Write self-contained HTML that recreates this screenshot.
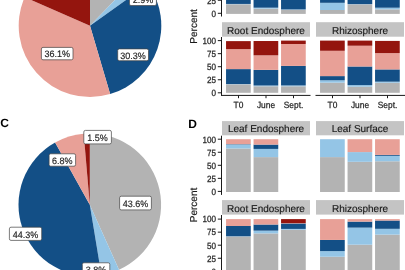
<!DOCTYPE html>
<html><head><meta charset="utf-8"><style>
html,body{margin:0;padding:0;background:#fff;}
body{width:405px;height:270px;overflow:hidden;}
svg{display:block;font-family:"Liberation Sans", sans-serif;will-change:transform;text-rendering:geometricPrecision;}
</style></head><body>
<svg width="405" height="270" viewBox="0 0 405 270">
<path d="M90,25.7L90,-45.6A71.3,71.3 0 0 1 139.62,-25.5Z" fill="#b3b3b3"/>
<path d="M90,25.7L139.62,-25.5A71.3,71.3 0 0 1 148.05,-15.7Z" fill="#94c5e6"/>
<path d="M90,25.7L148.05,-15.7A71.3,71.3 0 0 1 110.13,94.1Z" fill="#134f86"/>
<path d="M90,25.7L110.13,94.1A71.3,71.3 0 0 1 24.66,-2.84Z" fill="#e8a097"/>
<path d="M90,25.7L24.66,-2.84A71.3,71.3 0 0 1 90,-45.6Z" fill="#94150e"/>
<rect x="129.45" y="-7.4" width="26.95" height="12.95" rx="1.6" fill="#fff" stroke="#444" stroke-width="0.7"/>
<text transform="translate(142.93,2.78) scale(0.97,1)" font-size="9.3" text-anchor="middle" fill="#262626" stroke="#262626" stroke-width="0.18">2.9%</text>
<rect x="117.7" y="48.9" width="30.8" height="11.8" rx="1.6" fill="#fff" stroke="#444" stroke-width="0.7"/>
<text transform="translate(133.1,58.5) scale(0.97,1)" font-size="9.3" text-anchor="middle" fill="#262626" stroke="#262626" stroke-width="0.18">30.3%</text>
<rect x="41.4" y="47.4" width="31.6" height="12.4" rx="1.6" fill="#fff" stroke="#444" stroke-width="0.7"/>
<text transform="translate(57.2,57.3) scale(0.97,1)" font-size="9.3" text-anchor="middle" fill="#262626" stroke="#262626" stroke-width="0.18">36.1%</text>
<path d="M89.8,204.8L89.8,133.5A71.3,71.3 0 0 1 119.03,269.83Z" fill="#b3b3b3"/>
<path d="M89.8,204.8L119.03,269.83A71.3,71.3 0 0 1 101.45,275.14Z" fill="#94c5e6"/>
<path d="M89.8,204.8L101.45,275.14A71.3,71.3 0 0 1 55.12,142.5Z" fill="#134f86"/>
<path d="M89.8,204.8L55.12,142.5A71.3,71.3 0 0 1 83.71,133.76Z" fill="#e8a097"/>
<path d="M89.8,204.8L83.71,133.76A71.3,71.3 0 0 1 89.8,133.5Z" fill="#94150e"/>
<rect x="83.8" y="130.4" width="27.6" height="13.5" rx="1.6" fill="#fff" stroke="#444" stroke-width="0.7"/>
<text transform="translate(97.6,140.85) scale(0.97,1)" font-size="9.3" text-anchor="middle" fill="#262626" stroke="#262626" stroke-width="0.18">1.5%</text>
<rect x="49.1" y="153.8" width="26.5" height="12.4" rx="1.6" fill="#fff" stroke="#444" stroke-width="0.7"/>
<text transform="translate(62.35,163.7) scale(0.97,1)" font-size="9.3" text-anchor="middle" fill="#262626" stroke="#262626" stroke-width="0.18">6.8%</text>
<rect x="119.6" y="196.2" width="31.8" height="13.7" rx="1.6" fill="#fff" stroke="#444" stroke-width="0.7"/>
<text transform="translate(135.5,206.75) scale(0.97,1)" font-size="9.3" text-anchor="middle" fill="#262626" stroke="#262626" stroke-width="0.18">43.6%</text>
<rect x="9.4" y="227.2" width="32.3" height="13.2" rx="1.6" fill="#fff" stroke="#444" stroke-width="0.7"/>
<text transform="translate(25.55,237.5) scale(0.97,1)" font-size="9.3" text-anchor="middle" fill="#262626" stroke="#262626" stroke-width="0.18">44.3%</text>
<rect x="82.3" y="262.8" width="27.5" height="13.1" rx="1.6" fill="#fff" stroke="#444" stroke-width="0.7"/>
<text transform="translate(96.05,273.05) scale(0.97,1)" font-size="9.3" text-anchor="middle" fill="#262626" stroke="#262626" stroke-width="0.18">3.8%</text>
<text x="0.3" y="127.4" font-size="12" font-weight="bold" fill="#000">C</text>
<text x="188.2" y="127.8" font-size="12" font-weight="bold" fill="#000">D</text>
<rect x="226.05" y="4.25" width="24.7" height="9.65" fill="#b3b3b3"/>
<rect x="226.05" y="3.93" width="24.7" height="0.31" fill="#94c5e6"/>
<rect x="226.05" y="-38.4" width="24.7" height="42.33" fill="#134f86"/>
<rect x="253.55" y="8.68" width="24.7" height="5.22" fill="#b3b3b3"/>
<rect x="253.55" y="7.69" width="24.7" height="0.99" fill="#94c5e6"/>
<rect x="253.55" y="-38.4" width="24.7" height="46.09" fill="#134f86"/>
<rect x="281.05" y="9.89" width="24.7" height="4.01" fill="#b3b3b3"/>
<rect x="281.05" y="9.42" width="24.7" height="0.47" fill="#94c5e6"/>
<rect x="281.05" y="-38.4" width="24.7" height="47.82" fill="#134f86"/>
<rect x="320.05" y="10.01" width="24.7" height="3.89" fill="#b3b3b3"/>
<rect x="320.05" y="2.81" width="24.7" height="7.2" fill="#94c5e6"/>
<rect x="320.05" y="-38.9" width="24.7" height="41.71" fill="#134f86"/>
<rect x="347.55" y="4.32" width="24.7" height="9.58" fill="#b3b3b3"/>
<rect x="347.55" y="4.11" width="24.7" height="0.21" fill="#94c5e6"/>
<rect x="347.55" y="-38.9" width="24.7" height="43.01" fill="#134f86"/>
<rect x="375.05" y="9.39" width="24.7" height="4.51" fill="#b3b3b3"/>
<rect x="375.05" y="7.71" width="24.7" height="1.67" fill="#94c5e6"/>
<rect x="375.05" y="-38.9" width="24.7" height="46.61" fill="#134f86"/>
<rect x="221" y="-60" width="1" height="76.5" fill="#1a1a1a"/>
<rect x="217.8" y="12.8" width="3.4" height="1" fill="#1a1a1a"/>
<text transform="translate(216,16.6) scale(0.9,1)" font-size="9" text-anchor="end" fill="#262626" stroke="#262626" stroke-width="0.25">0</text>
<rect x="217.8" y="-0.25" width="3.4" height="1" fill="#1a1a1a"/>
<text transform="translate(216,3.55) scale(0.9,1)" font-size="9" text-anchor="end" fill="#262626" stroke="#262626" stroke-width="0.25">25</text>
<rect x="222" y="22.2" width="88" height="14.5" fill="#c4c4c4"/>
<text transform="translate(266,33.65) scale(1.0,1)" font-size="10" text-anchor="middle" fill="#1a1a1a" stroke="#1a1a1a" stroke-width="0.15">Root Endosphere</text>
<rect x="316" y="22.2" width="88" height="14.5" fill="#c4c4c4"/>
<text transform="translate(360,33.65) scale(1.0,1)" font-size="10" text-anchor="middle" fill="#1a1a1a" stroke="#1a1a1a" stroke-width="0.15">Rhizosphere</text>
<rect x="226.05" y="84.29" width="24.7" height="8.51" fill="#b3b3b3"/>
<rect x="226.05" y="84.03" width="24.7" height="0.26" fill="#94c5e6"/>
<rect x="226.05" y="69.1" width="24.7" height="14.93" fill="#134f86"/>
<rect x="226.05" y="49.11" width="24.7" height="19.99" fill="#e8a097"/>
<rect x="226.05" y="41.12" width="24.7" height="7.99" fill="#94150e"/>
<rect x="253.55" y="86.27" width="24.7" height="6.53" fill="#b3b3b3"/>
<rect x="253.55" y="85.49" width="24.7" height="0.78" fill="#94c5e6"/>
<rect x="253.55" y="69.88" width="24.7" height="15.61" fill="#134f86"/>
<rect x="253.55" y="55.32" width="24.7" height="14.56" fill="#e8a097"/>
<rect x="253.55" y="41.02" width="24.7" height="14.3" fill="#94150e"/>
<rect x="281.05" y="86.27" width="24.7" height="6.53" fill="#b3b3b3"/>
<rect x="281.05" y="85.44" width="24.7" height="0.84" fill="#94c5e6"/>
<rect x="281.05" y="65.92" width="24.7" height="19.52" fill="#134f86"/>
<rect x="281.05" y="43.99" width="24.7" height="21.92" fill="#e8a097"/>
<rect x="281.05" y="40.6" width="24.7" height="3.39" fill="#94150e"/>
<rect x="320.05" y="82.67" width="24.7" height="10.13" fill="#b3b3b3"/>
<rect x="320.05" y="80.27" width="24.7" height="2.4" fill="#94c5e6"/>
<rect x="320.05" y="76.1" width="24.7" height="4.18" fill="#134f86"/>
<rect x="320.05" y="50.78" width="24.7" height="25.32" fill="#e8a097"/>
<rect x="320.05" y="40.6" width="24.7" height="10.18" fill="#94150e"/>
<rect x="347.55" y="86.69" width="24.7" height="6.11" fill="#b3b3b3"/>
<rect x="347.55" y="85.07" width="24.7" height="1.62" fill="#94c5e6"/>
<rect x="347.55" y="66.49" width="24.7" height="18.58" fill="#134f86"/>
<rect x="347.55" y="45.72" width="24.7" height="20.78" fill="#e8a097"/>
<rect x="347.55" y="40.6" width="24.7" height="5.12" fill="#94150e"/>
<rect x="375.05" y="82.78" width="24.7" height="10.02" fill="#b3b3b3"/>
<rect x="375.05" y="81.68" width="24.7" height="1.1" fill="#94c5e6"/>
<rect x="375.05" y="69.41" width="24.7" height="12.27" fill="#134f86"/>
<rect x="375.05" y="53.13" width="24.7" height="16.29" fill="#e8a097"/>
<rect x="375.05" y="40.91" width="24.7" height="12.21" fill="#94150e"/>
<rect x="221" y="37" width="1" height="58.9" fill="#1a1a1a"/>
<rect x="217.8" y="92.3" width="3.4" height="1" fill="#1a1a1a"/>
<text transform="translate(216,96.1) scale(0.9,1)" font-size="9" text-anchor="end" fill="#262626" stroke="#262626" stroke-width="0.25">0</text>
<rect x="217.8" y="79.25" width="3.4" height="1" fill="#1a1a1a"/>
<text transform="translate(216,83.05) scale(0.9,1)" font-size="9" text-anchor="end" fill="#262626" stroke="#262626" stroke-width="0.25">25</text>
<rect x="217.8" y="66.2" width="3.4" height="1" fill="#1a1a1a"/>
<text transform="translate(216,70) scale(0.9,1)" font-size="9" text-anchor="end" fill="#262626" stroke="#262626" stroke-width="0.25">50</text>
<rect x="217.8" y="53.15" width="3.4" height="1" fill="#1a1a1a"/>
<text transform="translate(216,56.95) scale(0.9,1)" font-size="9" text-anchor="end" fill="#262626" stroke="#262626" stroke-width="0.25">75</text>
<rect x="217.8" y="40.1" width="3.4" height="1" fill="#1a1a1a"/>
<text transform="translate(216,43.9) scale(0.9,1)" font-size="9" text-anchor="end" fill="#262626" stroke="#262626" stroke-width="0.25">100</text>
<rect x="221.5" y="94.9" width="89" height="1" fill="#1a1a1a"/>
<rect x="238" y="95.4" width="1" height="2.8" fill="#1a1a1a"/>
<text transform="translate(238.5,107.7) scale(0.93,1)" font-size="9" text-anchor="middle" fill="#262626" stroke="#262626" stroke-width="0.25">T0</text>
<rect x="265.5" y="95.4" width="1" height="2.8" fill="#1a1a1a"/>
<text transform="translate(266,107.7) scale(0.93,1)" font-size="9" text-anchor="middle" fill="#262626" stroke="#262626" stroke-width="0.25">June</text>
<rect x="293" y="95.4" width="1" height="2.8" fill="#1a1a1a"/>
<text transform="translate(293.5,107.7) scale(0.93,1)" font-size="9" text-anchor="middle" fill="#262626" stroke="#262626" stroke-width="0.25">Sept.</text>
<rect x="315.5" y="94.9" width="89.5" height="1" fill="#1a1a1a"/>
<rect x="332" y="95.4" width="1" height="2.8" fill="#1a1a1a"/>
<text transform="translate(332.5,107.7) scale(0.93,1)" font-size="9" text-anchor="middle" fill="#262626" stroke="#262626" stroke-width="0.25">T0</text>
<rect x="359.5" y="95.4" width="1" height="2.8" fill="#1a1a1a"/>
<text transform="translate(360,107.7) scale(0.93,1)" font-size="9" text-anchor="middle" fill="#262626" stroke="#262626" stroke-width="0.25">June</text>
<rect x="387" y="95.4" width="1" height="2.8" fill="#1a1a1a"/>
<text transform="translate(387.5,107.7) scale(0.93,1)" font-size="9" text-anchor="middle" fill="#262626" stroke="#262626" stroke-width="0.25">Sept.</text>
<text transform="translate(197.4,26.4) rotate(-90)" font-size="10" text-anchor="middle" fill="#1a1a1a" stroke="#1a1a1a" stroke-width="0.2">Percent</text>
<rect x="222" y="121.1" width="88" height="14.2" fill="#c4c4c4"/>
<text transform="translate(266,132.4) scale(1.0,1)" font-size="10" text-anchor="middle" fill="#1a1a1a" stroke="#1a1a1a" stroke-width="0.15">Leaf Endosphere</text>
<rect x="316" y="121.1" width="88" height="14.2" fill="#c4c4c4"/>
<text transform="translate(360,132.4) scale(1.0,1)" font-size="10" text-anchor="middle" fill="#1a1a1a" stroke="#1a1a1a" stroke-width="0.15">Leaf Surface</text>
<rect x="226.05" y="148.49" width="24.7" height="43.51" fill="#b3b3b3"/>
<rect x="226.05" y="144.58" width="24.7" height="3.92" fill="#94c5e6"/>
<rect x="226.05" y="144.16" width="24.7" height="0.42" fill="#134f86"/>
<rect x="226.05" y="139.2" width="24.7" height="4.96" fill="#e8a097"/>
<rect x="253.55" y="157.1" width="24.7" height="34.9" fill="#b3b3b3"/>
<rect x="253.55" y="148.91" width="24.7" height="8.2" fill="#94c5e6"/>
<rect x="253.55" y="144.58" width="24.7" height="4.33" fill="#134f86"/>
<rect x="253.55" y="139.2" width="24.7" height="5.38" fill="#e8a097"/>
<rect x="320.05" y="157.1" width="24.7" height="34.9" fill="#b3b3b3"/>
<rect x="320.05" y="139.2" width="24.7" height="17.9" fill="#94c5e6"/>
<rect x="347.55" y="161.8" width="24.7" height="30.2" fill="#b3b3b3"/>
<rect x="347.55" y="152.09" width="24.7" height="9.71" fill="#94c5e6"/>
<rect x="347.55" y="139.2" width="24.7" height="12.89" fill="#e8a097"/>
<rect x="375.05" y="161.28" width="24.7" height="30.72" fill="#b3b3b3"/>
<rect x="375.05" y="155.8" width="24.7" height="5.48" fill="#94c5e6"/>
<rect x="375.05" y="154.91" width="24.7" height="0.89" fill="#134f86"/>
<rect x="375.05" y="139.2" width="24.7" height="15.71" fill="#e8a097"/>
<rect x="221" y="135.7" width="1" height="59.2" fill="#1a1a1a"/>
<rect x="217.8" y="190.9" width="3.4" height="1" fill="#1a1a1a"/>
<text transform="translate(216,194.7) scale(0.9,1)" font-size="9" text-anchor="end" fill="#262626" stroke="#262626" stroke-width="0.25">0</text>
<rect x="217.8" y="177.85" width="3.4" height="1" fill="#1a1a1a"/>
<text transform="translate(216,181.65) scale(0.9,1)" font-size="9" text-anchor="end" fill="#262626" stroke="#262626" stroke-width="0.25">25</text>
<rect x="217.8" y="164.8" width="3.4" height="1" fill="#1a1a1a"/>
<text transform="translate(216,168.6) scale(0.9,1)" font-size="9" text-anchor="end" fill="#262626" stroke="#262626" stroke-width="0.25">50</text>
<rect x="217.8" y="151.75" width="3.4" height="1" fill="#1a1a1a"/>
<text transform="translate(216,155.55) scale(0.9,1)" font-size="9" text-anchor="end" fill="#262626" stroke="#262626" stroke-width="0.25">75</text>
<rect x="217.8" y="138.7" width="3.4" height="1" fill="#1a1a1a"/>
<text transform="translate(216,142.5) scale(0.9,1)" font-size="9" text-anchor="end" fill="#262626" stroke="#262626" stroke-width="0.25">100</text>
<rect x="222" y="200.1" width="88" height="14.5" fill="#c4c4c4"/>
<text transform="translate(266,211.55) scale(1.0,1)" font-size="10" text-anchor="middle" fill="#1a1a1a" stroke="#1a1a1a" stroke-width="0.15">Root Endosphere</text>
<rect x="316" y="200.1" width="88" height="14.5" fill="#c4c4c4"/>
<text transform="translate(360,211.55) scale(1.0,1)" font-size="10" text-anchor="middle" fill="#1a1a1a" stroke="#1a1a1a" stroke-width="0.15">Rhizosphere</text>
<rect x="226.05" y="236.53" width="24.7" height="34.77" fill="#b3b3b3"/>
<rect x="226.05" y="236.27" width="24.7" height="0.26" fill="#94c5e6"/>
<rect x="226.05" y="225.99" width="24.7" height="10.28" fill="#134f86"/>
<rect x="226.05" y="219.1" width="24.7" height="6.89" fill="#e8a097"/>
<rect x="253.55" y="233.4" width="24.7" height="37.9" fill="#b3b3b3"/>
<rect x="253.55" y="230.64" width="24.7" height="2.77" fill="#94c5e6"/>
<rect x="253.55" y="224.53" width="24.7" height="6.11" fill="#134f86"/>
<rect x="253.55" y="219.1" width="24.7" height="5.43" fill="#e8a097"/>
<rect x="281.05" y="229.8" width="24.7" height="41.5" fill="#b3b3b3"/>
<rect x="281.05" y="228.91" width="24.7" height="0.89" fill="#94c5e6"/>
<rect x="281.05" y="223.48" width="24.7" height="5.43" fill="#134f86"/>
<rect x="281.05" y="223.12" width="24.7" height="0.37" fill="#e8a097"/>
<rect x="281.05" y="219.1" width="24.7" height="4.02" fill="#94150e"/>
<rect x="320.05" y="256.74" width="24.7" height="14.56" fill="#b3b3b3"/>
<rect x="320.05" y="251.1" width="24.7" height="5.64" fill="#94c5e6"/>
<rect x="320.05" y="239.93" width="24.7" height="11.17" fill="#134f86"/>
<rect x="320.05" y="219.1" width="24.7" height="20.83" fill="#e8a097"/>
<rect x="347.55" y="244.68" width="24.7" height="26.62" fill="#b3b3b3"/>
<rect x="347.55" y="227.61" width="24.7" height="17.07" fill="#94c5e6"/>
<rect x="347.55" y="221.61" width="24.7" height="6" fill="#134f86"/>
<rect x="347.55" y="219.1" width="24.7" height="2.51" fill="#e8a097"/>
<rect x="375.05" y="234.6" width="24.7" height="36.7" fill="#b3b3b3"/>
<rect x="375.05" y="228.81" width="24.7" height="5.79" fill="#94c5e6"/>
<rect x="375.05" y="220.51" width="24.7" height="8.3" fill="#134f86"/>
<rect x="375.05" y="219.1" width="24.7" height="1.41" fill="#e8a097"/>
<rect x="221" y="215" width="1" height="85" fill="#1a1a1a"/>
<rect x="217.8" y="270.8" width="3.4" height="1" fill="#1a1a1a"/>
<text transform="translate(216,274.6) scale(0.9,1)" font-size="9" text-anchor="end" fill="#262626" stroke="#262626" stroke-width="0.25">0</text>
<rect x="217.8" y="257.75" width="3.4" height="1" fill="#1a1a1a"/>
<text transform="translate(216,261.55) scale(0.9,1)" font-size="9" text-anchor="end" fill="#262626" stroke="#262626" stroke-width="0.25">25</text>
<rect x="217.8" y="244.7" width="3.4" height="1" fill="#1a1a1a"/>
<text transform="translate(216,248.5) scale(0.9,1)" font-size="9" text-anchor="end" fill="#262626" stroke="#262626" stroke-width="0.25">50</text>
<rect x="217.8" y="231.65" width="3.4" height="1" fill="#1a1a1a"/>
<text transform="translate(216,235.45) scale(0.9,1)" font-size="9" text-anchor="end" fill="#262626" stroke="#262626" stroke-width="0.25">75</text>
<rect x="217.8" y="218.6" width="3.4" height="1" fill="#1a1a1a"/>
<text transform="translate(216,222.4) scale(0.9,1)" font-size="9" text-anchor="end" fill="#262626" stroke="#262626" stroke-width="0.25">100</text>
<text transform="translate(197.0,205.0) rotate(-90)" font-size="10" text-anchor="middle" fill="#1a1a1a" stroke="#1a1a1a" stroke-width="0.2">Percent</text>
</svg>
</body></html>
